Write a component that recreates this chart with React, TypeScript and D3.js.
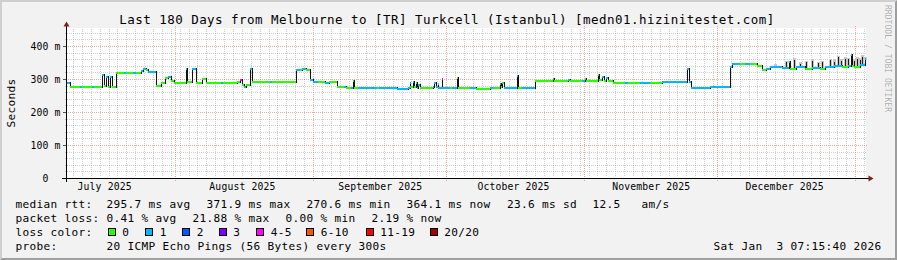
import React from 'react';
import * as d3 from 'd3';

// ---------- time span ----------
const END_MS = Date.UTC(2026, 0, 3, 7, 15, 40);
const DAY_MS = 86400000;
const SPAN_DAYS = 180;
const START_MS = END_MS - SPAN_DAYS * DAY_MS;

// ---------- median rtt steps (day offset from start, ms, loss class) ----------
const stepDay = [
  0, 1.1, 3.2, 3.8, 6.0, 6.5, 8.3, 8.7, 9.0, 9.45,
  9.9, 10.35, 11.25, 13.05, 13.7, 15.1, 15.75, 17.0, 17.4, 18.0,
  18.45, 18.9, 20.4, 21.5, 22.3, 22.95, 23.8, 24.5, 27.0, 27.3,
  28.5, 29.4, 30.8, 31.7, 35.0, 35.5, 38.5, 39.3, 39.6, 40.05,
  40.5, 41.6, 42.0, 46.0, 46.5, 51.75, 52.65, 53.3, 54.2, 55.1,
  55.6, 56.7, 58.3, 59.2, 61.1, 62.55, 63.2, 64.3, 64.6, 64.9,
  65.7, 70.0, 70.5, 74.5, 76.95, 77.4, 77.6, 78.1, 78.3, 78.75,
  79.0, 79.4, 79.65, 82.6, 83.0, 83.25, 83.7, 83.9, 84.6, 84.8,
  86.5, 87.0, 88.1, 88.3, 90.9, 92.25, 95.5, 96.2, 97.65, 98.0,
  98.3, 98.55, 101.6, 101.9, 102.6, 105.7, 109.6, 110.0, 112.95, 113.6,
  116.3, 116.8, 117.0, 119.7, 120.0, 120.6, 121.05, 121.5, 121.95, 123.1,
  126.0, 126.5, 129.15, 131.4, 134.3, 139.9, 140.2, 140.8, 145.0, 149.4,
  149.85, 151.65, 152.8, 153.9, 155.5, 156.8, 157.5, 158.4, 161.3, 162.7,
  162.95, 164.25, 166.3, 167.85, 169.65, 171.0, 173.0, 174.6, 175.95, 176.7,
  176.95, 177.5, 178.65, 179.8,
];
const stepMs = [
  289, 275, 275, 275, 276, 275, 312, 280, 306, 276,
  306, 276, 317, 317, 317, 318, 317, 324, 331, 327,
  322, 320, 279, 289, 302, 305, 293, 289, 330, 292,
  330, 289, 300, 289, 289, 288, 291, 297, 282, 276,
  283, 330, 290, 290, 290, 328, 328, 329, 327, 297,
  291, 290, 289, 290, 275, 275, 274, 274, 293, 272,
  274, 274, 274, 271, 274, 288, 275, 290, 276, 287,
  274, 283, 272, 277, 288, 275, 285, 274, 300, 274,
  273, 274, 302, 272, 272, 271, 273, 272, 284, 276,
  287, 274, 309, 274, 274, 295, 299, 295, 297, 295,
  294, 299, 295, 313, 296, 305, 295, 303, 293, 289,
  289, 289, 289, 288, 292, 330, 292, 274, 275, 337,
  345, 344, 345, 344, 339, 328, 331, 335, 334, 352,
  331, 335, 330, 333, 331, 336, 338, 335, 339, 372,
  338, 336, 341, 360,
];
const stepLoss = [
  1, 0, 1, 0, 1, 0, 1, 0, 1, 0,
  1, 0, 0, 1, 0, 1, 0, 1, 1, 0,
  1, 1, 0, 0, 0, 1, 0, 0, 1, 0,
  1, 0, 0, 0, 1, 0, 0, 4, 0, 1,
  0, 1, 0, 1, 0, 1, 0, 1, 0, 1,
  1, 0, 1, 0, 0, 1, 0, 1, 0, 0,
  1, 0, 1, 1, 1, 1, 0, 1, 0, 0,
  1, 1, 0, 1, 1, 1, 0, 1, 4, 1,
  0, 1, 0, 0, 1, 0, 1, 0, 1, 0,
  0, 1, 1, 0, 1, 0, 1, 0, 1, 0,
  1, 0, 0, 0, 0, 1, 0, 1, 0, 0,
  1, 0, 1, 0, 1, 1, 1, 1, 1, 1,
  1, 0, 1, 0, 0, 0, 1, 1, 1, 1,
  0, 1, 0, 1, 0, 1, 1, 0, 1, 1,
  0, 0, 1, 1,
];

// ---------- smoke (ping spread) in December ----------
const smokeDay = [
  159.75, 162.0, 162.8, 164.0, 165.15, 166.5, 167.85, 169.2, 170.3, 171.9,
  172.8, 173.7, 174.4, 175.3, 175.95, 176.8, 177.3, 177.98, 178.65, 179.3,
  179.85,
];
const smokeCore = [
  340, 350, 350, 358, 346, 352, 356, 348, 350, 358,
  352, 366, 356, 362, 360, 366, 356, 362, 358, 366,
  362,
];
const smokeHaze = [
  344, 356, 354, 365, 350, 356, 362, 352, 354, 362,
  360, 370, 362, 367, 364, 373, 362, 368, 364, 372,
  368,
];

// ---------- axis / legend texts ----------
const yMax = 454.5;
const yTicks = [0, 100, 200, 300, 400];
const yMinorStepMs = 20;
const lossColors = ['#26ff00', '#00b8ff', '#0059ff', '#7e00ff', '#ff00ff', '#ff5500', '#ff0000', '#a10000'];
const lossLabels = ['0', '1', '2', '3', '4-5', '6-10', '11-19', '20/20'];

const titleText = 'Last 180 Days from Melbourne to [TR] Turkcell (Istanbul) [medn01.hizinitestet.com]';
const rttLabel = 'median rtt:';
const rttStats = ['295.7 ms avg', '371.9 ms max', '270.6 ms min', '364.1 ms now', '23.6 ms sd', '12.5', 'am/s'];
const lossLabel = 'packet loss:';
const lossStats = ['0.41 % avg', '21.88 % max', '0.00 % min', '2.19 % now'];
const lossColorLabel = 'loss color:';
const probeLabel = 'probe:';
const probeText = '20 ICMP Echo Pings (56 Bytes) every 300s';
const stampText = 'Sat Jan\u00a0\u00a03 07:15:40 2026';
const yAxisTitle = 'Seconds';
const watermarkText = 'RRDTOOL / TOBI OETIKER';

// ---------- layout ----------
const W = 897;
const H = 260;
const X0 = 66;
const X1 = 866;
const YT = 28;
const YB = 178;
const rttX = [106.6, 206.6, 306.6, 406.6, 507, 592.6, 641.6];
const lossStatX = [106.6, 192.6, 285.6, 371.6];
const boxX = [108, 145.5, 182.5, 219, 256.5, 306.5, 366, 430];
const FONT = '"DejaVu Sans Mono", monospace';

export default function App() {
  const x = d3.scaleUtc().domain([new Date(START_MS), new Date(END_MS)]).range([X0, X1]);
  const y = d3.scaleLinear().domain([0, yMax]).range([YB + 0.5, YT + 0.5]);
  const dayDate = (d: number) => new Date(START_MS + d * DAY_MS);
  const col = (d: number) => Math.floor(x(dayDate(d)));
  const row = (v: number) => Math.floor(y(v));

  // grid
  const months = d3.utcMonths(new Date(START_MS), new Date(END_MS));
  const monthCols = months.map((m) => Math.floor(x(m)));
  const minorCols: number[] = [];
  for (let t = d3.utcDay.floor(new Date(START_MS)); t.getTime() <= END_MS; t = d3.utcDay.offset(t, 2)) {
    if (t.getTime() < START_MS) continue;
    const c = Math.floor(x(t));
    if (monthCols.some((mc) => Math.abs(mc - c) <= 1)) continue;
    minorCols.push(c);
  }
  const labelMonths = d3.utcMonths(d3.utcMonth.floor(new Date(START_MS)), new Date(END_MS + DAY_MS))
    .map((m) => ({ m, t: d3.utcDay.offset(m, 15) }))
    .filter((o) => o.t.getTime() >= START_MS && o.t.getTime() <= END_MS);
  const fmtMonth = d3.utcFormat('%B %Y');
  const minorRows: number[] = [];
  for (let v = yMinorStepMs; v <= yMax; v += yMinorStepMs) {
    if (v % 100 === 0) continue;
    minorRows.push(row(v));
  }

  // median steps
  const n = stepDay.length;
  const segs = stepDay.map((d, i) => {
    const xa = col(d);
    const xbRaw = col(i + 1 < n ? stepDay[i + 1] : SPAN_DAYS);
    const xb = Math.max(xa + 1, xbRaw);
    return { xa, xb, r: row(stepMs[i]), loss: stepLoss[i] };
  });
  const verticals = segs.slice(1).map((s, i) => {
    const p = segs[i];
    const top = Math.min(p.r, s.r) - 1;
    const bot = Math.max(p.r, s.r) + 1;
    return { x: s.xa, top, h: bot - top };
  });
  const medianAt = (d: number) => {
    const i = Math.max(0, d3.bisectRight(stepDay, d) - 1);
    return stepMs[i];
  };

  const legendStyle = { fontFamily: FONT, fontSize: '11.1px', letterSpacing: '0.32px' };
  const axisStyle = { fontFamily: FONT, fontSize: '9.75px', letterSpacing: '0.14px' };

  return (
    <svg width={W} height={H} viewBox={`0 0 ${W} ${H}`} style={{ position: 'absolute', left: 0, top: 0, display: 'block' }}>
      <style>{`body{margin:0;overflow:hidden}`}</style>
      {/* background and frame */}
      <rect x={0} y={0} width={W} height={H} fill="#f2f2f2" />
      <polygon points={`0,${H} 2,${H - 2} 2,2 ${W - 2},2 ${W},0 0,0`} fill="#cfcfcf" />
      <polygon points={`2,${H - 2} ${W - 2},${H - 2} ${W - 2},2 ${W},0 ${W},${H} 0,${H}`} fill="#9e9e9e" />
      <rect x={X0} y={YT} width={X1 - X0} height={YB - YT} fill="#ffffff" />

      {/* minor grid */}
      <g stroke="#8f8f8f" strokeOpacity={0.42} strokeWidth={1} strokeDasharray="1 1" shapeRendering="crispEdges">
        {minorCols.map((c, i) => (
          <line key={'mv' + i} x1={c + 0.5} y1={YT + 1} x2={c + 0.5} y2={YB - 1} />
        ))}
        {minorRows.map((r, i) => (
          <line key={'mh' + i} x1={X0 - 1} y1={r + 0.5} x2={X1 + 1} y2={r + 0.5} />
        ))}
      </g>
      {/* major grid */}
      <g stroke="#de4f4f" strokeOpacity={0.5} strokeWidth={1} strokeDasharray="1 1" shapeRendering="crispEdges">
        {monthCols.map((c, i) => (
          <line key={'Mv' + i} x1={c + 0.5} y1={YT - 2} x2={c + 0.5} y2={YB + 3} />
        ))}
        {yTicks.filter((v) => v > 0).map((v) => (
          <line key={'Mh' + v} x1={X0 - 2} y1={row(v) + 0.5} x2={X1 + 2} y2={row(v) + 0.5} />
        ))}
      </g>
      <g stroke="#555" strokeWidth={1} shapeRendering="crispEdges">
        {yTicks.filter((v) => v > 0).map((v) => (
          <line key={'tk' + v} x1={X0 - 3} y1={row(v) + 0.5} x2={X0} y2={row(v) + 0.5} />
        ))}
      </g>

      {/* smoke */}
      <g shapeRendering="crispEdges">
        {smokeDay.map((d, i) => {
          const c = col(d);
          const base = row(medianAt(d));
          const hz = row(smokeHaze[i]);
          return <rect key={'hz' + i} x={c - 1} y={hz} width={3} height={base - hz + 1} fill="#c8c8c8" />;
        })}
        {smokeDay.map((d, i) => {
          const c = col(d);
          const base = row(medianAt(d));
          const cr = row(smokeCore[i]);
          return <rect key={'cr' + i} x={c} y={cr} width={1} height={base - cr + 1} fill="#1a1a1a" />;
        })}
      </g>

      {/* median: black transitions then loss-coloured steps */}
      <g shapeRendering="crispEdges">
        {verticals.map((v, i) => (
          <rect key={'vt' + i} x={v.x} y={v.top} width={1} height={v.h} fill="#111" />
        ))}
        {segs.map((s, i) => (
          <rect key={'sg' + i} x={s.xa} y={s.r - 1} width={s.xb - s.xa} height={2} fill={lossColors[s.loss]} />
        ))}
      </g>

      {/* axes */}
      <g stroke="#000" strokeWidth={1} shapeRendering="crispEdges">
        <line x1={X0 - 4} y1={YB + 0.5} x2={X1 + 4} y2={YB + 0.5} />
        <line x1={X0 + 0.5} y1={YB + 4} x2={X0 + 0.5} y2={YT - 4} />
      </g>
      <polygon points={`${X1 + 2.5},${YB - 2.5} ${X1 + 2.5},${YB + 3.5} ${X1 + 7.5},${YB + 0.5}`} fill="#801f1f" />
      <polygon points={`${X0 - 2.5},${YT - 1.5} ${X0 + 3.5},${YT - 1.5} ${X0 + 0.5},${YT - 6.5}`} fill="#801f1f" />

      {/* y labels */}
      <g style={axisStyle} fill="#000">
        {yTicks.map((v) => (
          <g key={'yl' + v}>
            <text x={48.6} y={row(v) + 3.6} textAnchor="end">{d3.format('d')(v)}</text>
            {v > 0 && <text x={54.6} y={row(v) + 3.6}>m</text>}
          </g>
        ))}
      </g>
      {/* x labels */}
      <g style={axisStyle} fill="#000">
        {labelMonths.map((o, i) => (
          <text key={'xl' + i} x={x(o.t)} y={190} textAnchor="middle">{fmtMonth(o.m)}</text>
        ))}
      </g>

      {/* title */}
      <text x={447} y={23.7} textAnchor="middle" style={{ fontFamily: FONT, fontSize: '12.5px', letterSpacing: '0.47px' }} fill="#000">
        {titleText}
      </text>
      {/* vertical axis title */}
      <text transform={`translate(15,103) rotate(-90)`} textAnchor="middle" style={legendStyle} fill="#000">
        {yAxisTitle}
      </text>
      {/* watermark */}
      <text transform={`translate(885,5) rotate(90)`} style={{ fontFamily: FONT, fontSize: '8px', letterSpacing: '0.05px' }} fill="#000" fillOpacity={0.3}>
        {watermarkText}
      </text>

      {/* legend */}
      <g style={legendStyle} fill="#000">
        <text x={15.5} y={208}>{rttLabel}</text>
        {rttStats.map((s, i) => (
          <text key={'rs' + i} x={rttX[i]} y={208}>{s}</text>
        ))}
        <text x={15.5} y={222}>{lossLabel}</text>
        {lossStats.map((s, i) => (
          <text key={'ls' + i} x={lossStatX[i]} y={222}>{s}</text>
        ))}
        <text x={15.5} y={236}>{lossColorLabel}</text>
        {lossLabels.map((s, i) => (
          <text key={'ll' + i} x={boxX[i] + 14.2} y={236}>{s}</text>
        ))}
        <text x={15.5} y={250}>{probeLabel}</text>
        <text x={106.6} y={250}>{probeText}</text>
        <text x={881.5} y={250} textAnchor="end">{stampText}</text>
      </g>
      <g shapeRendering="crispEdges">
        {lossColors.map((c, i) => (
          <rect key={'bx' + i} x={Math.floor(boxX[i]) + 0.5} y={228.5} width={7} height={7} fill={c} stroke="#000" strokeWidth={1} />
        ))}
      </g>
    </svg>
  );
}
